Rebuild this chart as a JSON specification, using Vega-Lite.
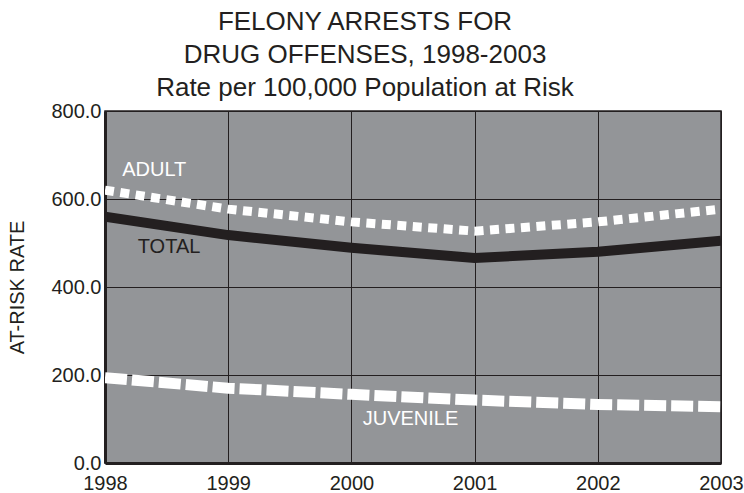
{
  "$schema": "https://vega.github.io/schema/vega-lite/v6.json",
  "autosize": "none",
  "width": 616,
  "height": 352,
  "padding": {"left": 105, "top": 111, "right": 23, "bottom": 30},
  "background": "white",
  "title": {
    "text": ["FELONY ARRESTS FOR", "DRUG OFFENSES, 1998-2003", "Rate per 100,000 Population at Risk"],
    "font": "Liberation Sans",
    "fontSize": 26,
    "fontWeight": "normal",
    "color": "#231f20",
    "lineHeight": 33,
    "anchor": "middle",
    "dx": -48,
    "offset": 0
  },
  "config": {
    "view": {"fill": "#939598", "stroke": "#231f20", "strokeWidth": 1.5},
    "axis": {
      "labelFont": "Liberation Sans",
      "labelFontSize": 20,
      "labelColor": "#231f20",
      "titleFont": "Liberation Sans",
      "titleFontSize": 20,
      "titleFontWeight": "normal",
      "titleColor": "#231f20",
      "gridColor": "#231f20",
      "gridWidth": 1,
      "gridOpacity": 1,
      "domainColor": "#231f20",
      "domainWidth": 3,
      "ticks": false
    }
  },
  "datasets": {
    "series": [
      {"year": 1998, "series": "TOTAL", "rate": 560},
      {"year": 1999, "series": "TOTAL", "rate": 518},
      {"year": 2000, "series": "TOTAL", "rate": 489},
      {"year": 2001, "series": "TOTAL", "rate": 466},
      {"year": 2002, "series": "TOTAL", "rate": 480},
      {"year": 2003, "series": "TOTAL", "rate": 505},
      {"year": 1998, "series": "ADULT", "rate": 620},
      {"year": 1999, "series": "ADULT", "rate": 577},
      {"year": 2000, "series": "ADULT", "rate": 548},
      {"year": 2001, "series": "ADULT", "rate": 527},
      {"year": 2002, "series": "ADULT", "rate": 548},
      {"year": 2003, "series": "ADULT", "rate": 577},
      {"year": 1998, "series": "JUVENILE", "rate": 194},
      {"year": 1999, "series": "JUVENILE", "rate": 170},
      {"year": 2000, "series": "JUVENILE", "rate": 156},
      {"year": 2001, "series": "JUVENILE", "rate": 143},
      {"year": 2002, "series": "JUVENILE", "rate": 133},
      {"year": 2003, "series": "JUVENILE", "rate": 128}
    ],
    "labels": [
      {"label": "ADULT", "year": 1998.4, "rate": 667, "color": "white"},
      {"label": "TOTAL", "year": 1998.52, "rate": 491, "color": "black"},
      {"label": "JUVENILE", "year": 2000.48, "rate": 100, "color": "white"}
    ]
  },
  "layer": [
    {
      "data": {"name": "series"},
      "transform": [{"filter": "datum.series === 'TOTAL'"}],
      "mark": {"type": "line", "color": "#231f20", "strokeWidth": 10, "clip": true},
      "encoding": {
        "x": {"field": "year", "type": "quantitative", "scale": {"domain": [1998, 2003], "nice": false, "zero": false},
              "axis": {"title": null, "format": "d", "values": [1998, 1999, 2000, 2001, 2002, 2003], "labelPadding": 10, "grid": true, "labelFlush": false}},
        "y": {"field": "rate", "type": "quantitative", "scale": {"domain": [0, 800]},
              "axis": {"title": "AT-RISK RATE", "format": ".1f", "values": [0, 200, 400, 600, 800], "labelPadding": 4, "titlePadding": 23, "grid": true}}
      }
    },
    {
      "data": {"name": "series"},
      "transform": [{"filter": "datum.series === 'ADULT'"}],
      "mark": {"type": "line", "color": "white", "strokeWidth": 9, "strokeDash": [9, 6.5], "clip": true},
      "encoding": {
        "x": {"field": "year", "type": "quantitative"},
        "y": {"field": "rate", "type": "quantitative"}
      }
    },
    {
      "data": {"name": "series"},
      "transform": [{"filter": "datum.series === 'JUVENILE'"}],
      "mark": {"type": "line", "color": "white", "strokeWidth": 11, "strokeDash": [22, 5], "clip": true},
      "encoding": {
        "x": {"field": "year", "type": "quantitative"},
        "y": {"field": "rate", "type": "quantitative"}
      }
    },
    {
      "data": {"name": "labels"},
      "mark": {"type": "text", "font": "Liberation Sans", "fontSize": 20, "align": "center", "baseline": "middle"},
      "encoding": {
        "x": {"field": "year", "type": "quantitative"},
        "y": {"field": "rate", "type": "quantitative"},
        "text": {"field": "label"},
        "color": {"field": "color", "type": "nominal", "scale": {"domain": ["white", "black"], "range": ["#ffffff", "#231f20"]}, "legend": null}
      }
    }
  ]
}
